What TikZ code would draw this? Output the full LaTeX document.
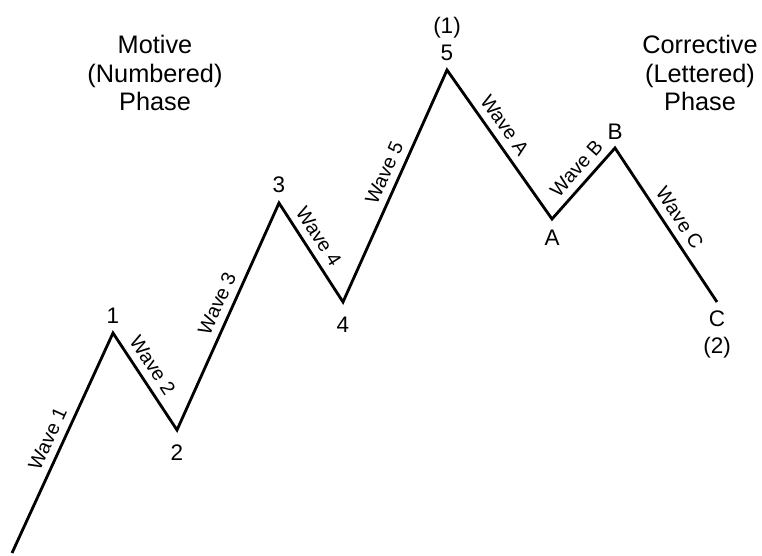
\documentclass[tikz,border=0pt]{standalone}
\usepackage{fontspec}
\setmainfont{Liberation Sans}
\usetikzlibrary{positioning}
\tikzstyle{wave} = [
    line width=2pt,
    line join=miter
]
\tikzstyle{wavelabel} = [
    sloped,
    above=5pt,
    inner sep=0pt,
    font=\fontsize{14}{16}\selectfont
]
\tikzstyle{pointlabel} = [
    inner sep=0pt,
    align=center,
    font=\fontsize{16}{19}\selectfont
]
\tikzstyle{phaselabel} = [
    inner sep=0pt,
    align=center,
    font=\fontsize{18}{20.3}\selectfont
]

\begin{document}
\begin{tikzpicture}[x=0.025cm, y=-0.025cm]

\useasboundingbox (0,0) rectangle (762,555);

\coordinate (w0) at (12,553);
\coordinate (w1) at (113,333);
\coordinate (w2) at (177,430);
\coordinate (w3) at (279,203);
\coordinate (w4) at (343,302);
\coordinate (w5) at (447,70);
\coordinate (wA) at (552,219);
\coordinate (wB) at (615,148);
\coordinate (wC) at (717,302);

\draw [wave] (w0) -- node[wavelabel, pos=0.49] {Wave 1} (w1)
    -- node[wavelabel, pos=0.42] {Wave 2} (w2)
    -- node[wavelabel, pos=0.53] {Wave 3} (w3)
    -- node[wavelabel, pos=0.42] {Wave 4} (w4)
    -- node[wavelabel, pos=0.53] {Wave 5} (w5)
    -- node[wavelabel, pos=0.43] {Wave A} (wA)
    -- node[wavelabel, pos=0.57] {Wave B} (wB)
    -- node[wavelabel, pos=0.51] {Wave C} (wC);

\node (lbl1) [pointlabel, above=6.5pt of w1] {1};
\node (lbl2) [pointlabel, below=10pt of w2] {2};
\node (lbl3) [pointlabel, above=7pt of w3] {3};
\node (lbl4) [pointlabel, below=10.5pt of w4] {4};
\node (lbl5) [pointlabel, above=6.5pt of w5] {(1)\\5};
\node (lblA) [pointlabel, below=7.5pt of wA] {A};
\node (lblB) [pointlabel, above=6pt of wB] {B};
\node (lblC) [pointlabel, below=6pt of wC] {C\\(2)};

\node (motive) [phaselabel] at (155,73) {Motive\\(Numbered)\\Phase};
\node (corrective) [phaselabel] at (700,73) {Corrective\\(Lettered)\\Phase};

\end{tikzpicture}
\end{document}
